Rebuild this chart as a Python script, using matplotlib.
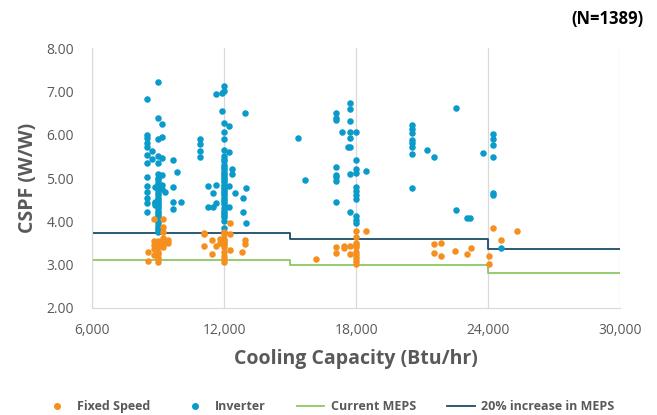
import numpy as np
import matplotlib.pyplot as plt
from matplotlib.lines import Line2D
from matplotlib.ticker import FuncFormatter

plt.rcParams['font.family'] = ['Open Sans', 'DejaVu Sans']

# (capacity, [cspf values])
fixed_speed_columns = [
    (8530, [3.30, 3.08]),
    (8820, [4.05, 3.55, 3.45, 3.35, 3.22]),
    (9000, [3.55, 3.50, 3.45, 3.40, 3.30, 3.25, 3.16, 3.05]),
    (9230, [4.05, 3.88, 3.75, 3.62, 3.50, 3.40]),
    (9440, [3.50, 3.58]),
    (11070, [3.74, 3.70, 3.42]),
    (11450, [3.57, 3.25]),
    (11620, [3.42]),
    (11800, [3.50, 3.60]),
    (12000, [3.75, 3.70, 3.60, 3.55, 3.50, 3.45, 3.40, 3.30, 3.20, 3.12, 3.05]),
    (12270, [3.95, 3.71, 3.34]),
    (12800, [3.30]),
    (12960, [3.57, 3.48]),
    (16200, [3.12]),
    (17080, [3.41, 3.26]),
    (17440, [3.42, 3.38]),
    (17740, [3.42, 3.24]),
    (18000, [3.78, 3.63, 3.50, 3.45, 3.40, 3.30, 3.22, 3.15, 3.08, 3.02]),
    (18440, [3.78]),
    (21530, [3.48, 3.26]),
    (21840, [3.51, 3.19]),
    (22480, [3.32]),
    (23030, [3.24]),
    (23200, [3.39]),
    (24030, [3.19, 3.02]),
    (24230, [3.84]),
    (24580, [3.57]),
    (25290, [3.78]),
]

inverter_columns = [
    (8500, [6.82, 6.00, 5.92, 5.80, 5.72, 5.53, 5.35, 5.03, 4.82, 4.68, 4.54, 4.43, 4.22]),
    (8730, [5.62, 5.45]),
    (8850, [4.80, 4.45, 4.38, 4.42]),
    (9000, [7.22, 6.38, 5.90, 5.50, 5.35, 5.10, 5.00, 4.95, 4.88, 4.82, 4.78, 4.72,
            4.65, 4.60, 4.55, 4.50, 4.45, 4.40, 4.35, 4.30, 4.25, 4.20, 4.15, 4.10,
            4.05, 4.00, 3.95, 3.90, 3.85, 3.80, 3.76]),
    (9200, [6.25, 5.95, 5.47, 5.08, 4.85, 4.75]),
    (9340, [4.68]),
    (9700, [5.42, 4.80, 4.45, 4.28]),
    (9850, [5.15]),
    (10050, [4.45]),
    (10910, [5.89, 5.78, 5.62, 5.49]),
    (11270, [4.82, 4.32]),
    (11500, [4.65, 4.32]),
    (11630, [6.95, 4.84, 4.42]),
    (11900, [6.97, 6.55]),
    (12000, [7.12, 7.00, 6.26, 6.07, 5.90, 5.65, 5.50, 5.45, 5.40, 5.30, 5.25, 5.20,
             5.15, 5.10, 5.05, 5.00, 4.95, 4.90, 4.85, 4.80, 4.75, 4.70, 4.65, 4.60,
             4.55, 4.50, 4.45, 4.40, 4.30, 4.25, 4.20, 4.15, 4.10, 4.00, 3.85, 3.75]),
    (12220, [6.20, 5.60, 4.82, 4.34]),
    (12380, [5.20, 5.09]),
    (12490, [4.66]),
    (12840, [4.55, 4.22]),
    (12950, [6.51]),
    (12990, [4.77, 3.97]),
    (15360, [5.92]),
    (15700, [4.95]),
    (17080, [6.50, 6.38, 6.33, 5.26, 5.08, 5.02, 4.94, 4.44]),
    (17380, [6.07]),
    (17640, [5.72]),
    (17710, [6.74, 6.59, 6.32, 6.07, 5.92, 5.71, 5.09, 4.22]),
    (18000, [6.07, 5.42, 5.22, 5.11, 4.80, 4.70, 4.60, 4.52, 4.12, 4.02, 3.95]),
    (18440, [5.17]),
    (20530, [6.22, 6.14, 6.05, 5.88, 5.82, 5.71, 5.55, 4.78]),
    (21240, [5.65]),
    (21530, [5.49]),
    (22560, [6.61, 4.26]),
    (23050, [4.08]),
    (23180, [4.08]),
    (23750, [5.58]),
    (24230, [6.01, 5.89, 5.76, 5.49, 4.65, 4.61]),
    (24580, [3.39]),
]

meps_breaks = [6000, 15000, 24000, 30000]
current_meps = [3.10, 3.00, 2.80]
increased_meps = [3.72, 3.60, 3.36]

orange = '#F5901E'
blue = '#0A9BCB'
green = '#8CC762'
navy = '#1B4D66'


def expand(columns):
    xs, ys = [], []
    for cap, vals in columns:
        xs += [cap] * len(vals)
        ys += vals
    return xs, ys


fx, fy = expand(fixed_speed_columns)
ix, iy = expand(inverter_columns)

fig = plt.figure(figsize=(6.57, 4.15), dpi=100)
ax = fig.add_axes([0.140, 0.258, 0.804, 0.626])

ax.scatter(ix, iy, s=22, color=blue, linewidths=0, zorder=3)
ax.scatter(fx, fy, s=22, color=orange, linewidths=0, zorder=3)
ax.step(meps_breaks, current_meps + [current_meps[-1]], where='post', color=green, lw=1.3, zorder=2)
ax.step(meps_breaks, increased_meps + [increased_meps[-1]], where='post', color=navy, lw=1.3, zorder=2)

ax.set_xlim(6000, 30000)
ax.set_ylim(2, 8)
ax.set_xticks(np.arange(6000, 30001, 6000))
ax.set_yticks(np.arange(2, 8.01, 1))
ax.xaxis.set_major_formatter(FuncFormatter(lambda v, p: f'{int(v):,}'))
ax.yaxis.set_major_formatter(FuncFormatter(lambda v, p: f'{v:.2f}'))
ax.tick_params(length=0, labelsize=10, labelcolor='#595959')
ax.tick_params(axis='x', pad=11)
ax.tick_params(axis='y', pad=13)
ax.grid(axis='x', color='#D9D9D9', lw=0.9)
ax.set_axisbelow(True)
for side in ['top', 'right']:
    ax.spines[side].set_visible(False)
for side in ['left', 'bottom']:
    ax.spines[side].set_color('#D9D9D9')

ax.set_xlabel('Cooling Capacity (Btu/hr)', fontsize=14, fontweight='bold', color='#595959', labelpad=8)
ax.set_ylabel('CSPF (W/W)', fontsize=14, fontweight='bold', color='#595959', labelpad=6)

fig.text(0.98, 0.955, '(N=1389)', ha='right', va='center', fontsize=12, fontweight='bold', color='#000000')

handles = [
    Line2D([], [], marker='o', ls='none', color=orange, markersize=4),
    Line2D([], [], marker='o', ls='none', color=blue, markersize=4),
    Line2D([], [], color=green, lw=1.3),
    Line2D([], [], color=navy, lw=1.3),
]
labels = ['Fixed Speed', 'Inverter', 'Current MEPS', '20% increase in MEPS']
leg = fig.legend(handles, labels, loc='center', bbox_to_anchor=(0.5, 0.02), ncol=4, frameon=False,
                 prop={'weight': 'bold', 'size': 9}, handlelength=2.2, columnspacing=2.5, handletextpad=0.5)
for t in leg.get_texts():
    t.set_color('#595959')

fig.savefig('out.png', dpi=100)
